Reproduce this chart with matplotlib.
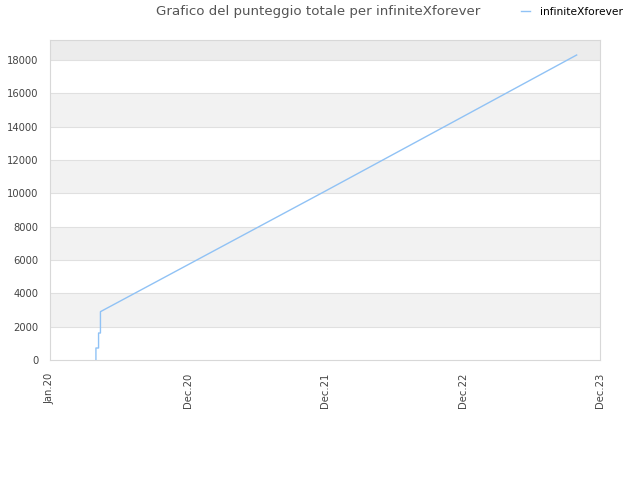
import numpy as np
import pandas as pd
import matplotlib
matplotlib.use("Agg")
import matplotlib.pyplot as plt

# dati
dates = pd.to_datetime(["2020-05-01", "2020-05-01", "2020-05-08", "2020-05-08",
                        "2020-05-13", "2020-05-13", "2020-12-31", "2021-12-31",
                        "2022-12-31", "2023-10-30"])
scores = [0, 720, 720, 1620, 1620, 2900, 5710, 10130, 14590, 18300]

tick_dates = pd.to_datetime(["2019-12-31", "2020-12-31", "2021-12-31", "2022-12-31", "2023-12-31"])
tick_labels = ["Jan.20", "Dec.20", "Dec.21", "Dec.22", "Dec.23"]
y_ticks = [0, 2000, 4000, 6000, 8000, 10000, 12000, 14000, 16000, 18000]

fig = plt.figure(figsize=(6.4, 4.8), dpi=100)
ax = fig.add_axes([50 / 640, 120 / 480, 550 / 640, 320 / 480])

ymax = 19200
# bande alternate
for i, y0 in enumerate(range(0, 20000, 2000)):
    if i % 2 == 1:
        col = "#ececec" if y0 == 18000 else "#f2f2f2"
        ax.axhspan(y0, min(y0 + 2000, ymax), color=col, zorder=0, lw=0)
for y in y_ticks[1:]:
    ax.axhline(y, color="#e0e0e0", lw=0.8, zorder=1)

ax.plot(dates, scores, color="#90c2f5", lw=1, label="infiniteXforever", zorder=3)

ax.set_xlim(tick_dates[0], tick_dates[-1])
ax.set_ylim(0, ymax)
ax.set_xticks(tick_dates)
ax.set_xticklabels(tick_labels, rotation=90, fontsize=7.2, color="#444444")
ax.set_yticks(y_ticks)
ax.set_yticklabels([str(v) for v in y_ticks], fontsize=7.2, color="#444444")
ax.tick_params(axis="y", length=0, pad=8.5)
ax.tick_params(axis="x", length=0, pad=9)
for s in ax.spines.values():
    s.set_color("#d8d8d8")
    s.set_linewidth(0.8)

fig.text(318 / 640, 1 - 12 / 480, "Grafico del punteggio totale per infiniteXforever",
         ha="center", va="center", fontsize=9.6, color="#555555")
fig.legend(loc="center", bbox_to_anchor=(572 / 640, 1 - 12 / 480), frameon=False,
           fontsize=7.7, handlelength=0.8, handletextpad=0.9)

fig.savefig("out.png", dpi=100)
